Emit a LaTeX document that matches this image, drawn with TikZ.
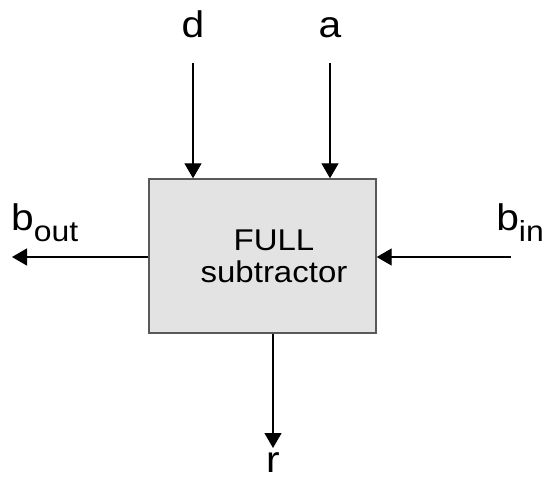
\documentclass[tikz,border=0pt]{standalone}
\usepackage{fontspec}
\setmainfont{Liberation Sans}[FakeStretch=1.1]
\usetikzlibrary{arrows.meta}
\newcommand{\sub}[1]{\raisebox{-11pt}{\fontsize{29}{29}\selectfont #1}}

\begin{document}
\begin{tikzpicture}[x=1pt,y=-1pt]
            \tikzset{block/.style={draw=black!65, line width=1.4pt, fill=black!11,
                        minimum width=227pt, minimum height=154pt},
                     lbl/.style={inner sep=0pt, font=\fontsize{37}{37}\selectfont},
                     sig/.style={line width=1.3pt, -{Triangle[width=17pt,length=15pt]}}}
            \useasboundingbox (0,0) rectangle (544,480);

            \node[block] (fs) at (262.5,256) {};
            \node[align=center, font=\fontsize{30}{32}\selectfont] (fstext) at (274,256) {FULL\\subtractor};

            % inputs on top
            \node[lbl, anchor=base] (d) at (193,37) {d};
            \node[lbl, anchor=base] (a) at (330,37) {a};
            \coordinate (din) at (193,63);
            \coordinate (ain) at (330,63);
            \draw[sig] (din) -- (din |- fs.north);
            \draw[sig] (ain) -- (ain |- fs.north);

            % borrow in / out
            \node[lbl, anchor=base west] (bout) at (11,230) {b\sub{out}};
            \node[lbl, anchor=base east] (bin) at (544,230) {b\sub{in}};
            \coordinate (boutend) at (12,257);
            \coordinate (binstart) at (511,257);
            \draw[sig] (fs.west |- boutend) -- (boutend);
            \draw[sig] (binstart) -- (fs.east |- binstart);

            % result
            \node[lbl, anchor=base] (r) at (273,472) {r};
            \coordinate (rend) at (273,448);
            \draw[sig] (rend |- fs.south) -- (rend);
\end{tikzpicture}
\end{document}
